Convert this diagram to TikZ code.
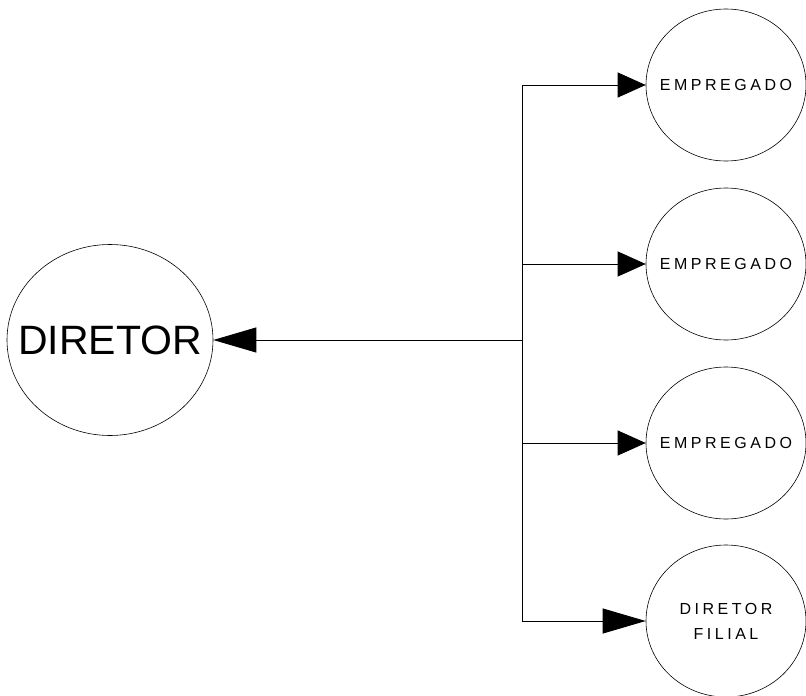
\documentclass[tikz,border=0pt]{standalone}
\usepackage{fontspec}
\setmainfont{Liberation Sans}
\usetikzlibrary{arrows.meta,shapes.geometric}

\begin{document}
\begin{tikzpicture}[
    x=1pt, y=-1pt,
    >={Triangle[length=28pt,width=25pt]},
    entity/.style={
      ellipse,
      draw,
      line width=0.6pt,
      minimum width=160pt,
      minimum height=152pt,
      inner sep=-30pt,
      align=center,
      font=\fontsize{16}{25}\selectfont\addfontfeature{LetterSpace=22}
    },
    chief/.style={
      ellipse,
      draw,
      line width=0.6pt,
      minimum width=206pt,
      minimum height=191pt,
      inner sep=-40pt,
      font=\fontsize{41}{48}\selectfont
    },
    long-arrow/.style={
      -{Triangle[length=43pt,width=25pt]}
    },
  ]
  \useasboundingbox (0,0) rectangle (806,696);

  %%%%%%%%%%%%%%%%%%%%%%%%%%%%%%%%%%%%%%%%%%%%%%
  %%%%%%%%%%%%%%%% ACTUAL NODES %%%%%%%%%%%%%%%%%%%
  %%%%%%%%%%%%%%%%%%%%%%%%%%%%%%%%%%%%%%%%%%%%%%
    \node[chief] (diretor) at (110,340) {DIRETOR};

    \node[entity] (emp1) at (726,85) {EMPREGADO};
    \node[entity] (emp2) at (726,264) {EMPREGADO};
    \node[entity] (emp3) at (726,443) {EMPREGADO};
    \node[entity] (filial) at (726,621) {DIRETOR\\FILIAL};

  %%%%%%%%%%%%%%%%%%%%%%%%%%%%%%%%%%%%%%%%%%%%%%
  %%%%%%%%%%%%%%%% HELPING NODES %%%%%%%%%%%%%%%%%%%
  %%%%%%%%%%%%%%%%%%%%%%%%%%%%%%%%%%%%%%%%%%%%%%
    \coordinate (bus-emp1) at (522,85);
    \coordinate (bus-emp2) at (522,264);
    \coordinate (bus-diretor) at (522,340);
    \coordinate (bus-emp3) at (522,443);
    \coordinate (bus-filial) at (522,621);

  %%%%%%%%%%%%%%%%%%%%%%%%%%%%%%%%%%%%%%%%%%%%%%
  %%%%%%%%%%%%%%%%%% PATHS %%%%%%%%%%%%%%%%%%%%%%%
  %%%%%%%%%%%%%%%%%%%%%%%%%%%%%%%%%%%%%%%%%%%%%%
    \path [-, draw, line width = 0.9pt] (bus-emp1) -- (bus-filial) {};

    \path [->, draw, line width = 0.9pt] (bus-emp1) -- (emp1) {};
    \path [->, draw, line width = 0.9pt] (bus-emp2) -- (emp2) {};
    \path [->, draw, line width = 0.9pt] (bus-emp3) -- (emp3) {};
    \path [long-arrow, draw, line width = 0.9pt] (bus-filial) -- (filial) {};

    \path [long-arrow, draw, line width = 0.9pt] (bus-diretor) -- (diretor) {};

\end{tikzpicture}
\end{document}
